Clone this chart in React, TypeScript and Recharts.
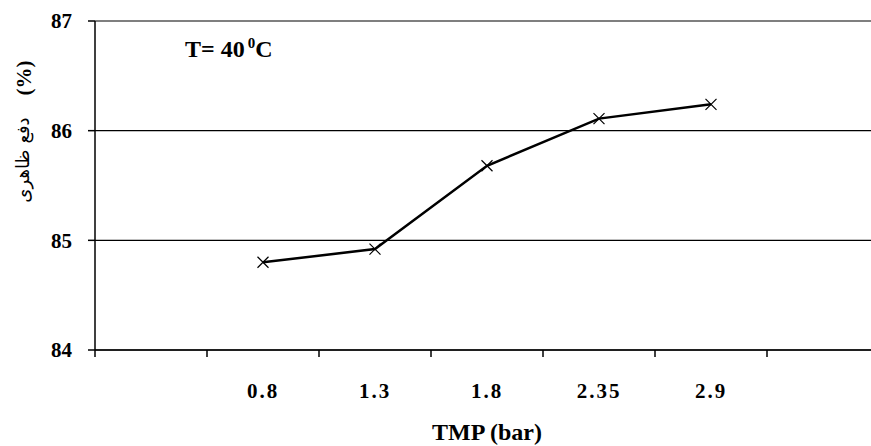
import { LineChart, Line, XAxis, YAxis, CartesianGrid, Customized } from 'recharts'

const tmpLabels = ['0.8', '1.3', '1.8', '2.35', '2.9']
const rejection = [84.8, 84.92, 85.68, 86.11, 86.24]
const yTicks = [84, 85, 86, 87]

// empty categories on both sides, like the original sheet
const data = [
  { tmp: 'padStart', value: null as number | null },
  ...tmpLabels.map((tmp, i) => ({ tmp, value: rejection[i] as number | null })),
  { tmp: 'padEnd', value: null as number | null },
]

const SERIF = '"Liberation Serif", "Times New Roman", serif'
const X_TICK_MARGIN = 33

function TmpTick(props: any) {
  const { x, y, payload } = props
  const half = payload.offset > 0 ? payload.offset : 56
  const axisY = y - X_TICK_MARGIN
  const isPad = String(payload.value).startsWith('pad')
  return (
    <g>
      <line x1={x - half} x2={x - half} y1={axisY} y2={axisY + 7} stroke="#000" strokeWidth={1.5} />
      {!isPad && (
        <text
          x={x}
          y={y}
          dy="0.71em"
          textAnchor="middle"
          fill="#000"
          fontFamily={SERIF}
          fontWeight="bold"
          fontSize={21}
          letterSpacing={2}
        >
          {payload.value}
        </text>
      )}
    </g>
  )
}

function CrossDot(props: any) {
  const { cx, cy } = props
  if (cx == null || cy == null) return <g />
  const s = 5.5
  return (
    <path
      d={`M${cx - s},${cy - s}L${cx + s},${cy + s}M${cx + s},${cy - s}L${cx - s},${cy + s}`}
      stroke="#000"
      strokeWidth={1.2}
      fill="none"
    />
  )
}

function Annotations() {
  return (
    <g>
      <text x={185} y={57} fill="#000" fontFamily={SERIF} fontWeight="bold" fontSize={24}>
        T= 40
        <tspan dx={3} dy={-9} fontSize={15}>0</tspan>
        <tspan dy={9} fontSize={24}>C</tspan>
      </text>
      <text
        x={24}
        y={78}
        transform="rotate(-90 24 78)"
        textAnchor="middle"
        dominantBaseline="central"
        fill="#000"
        fontFamily={SERIF}
        fontWeight="bold"
        fontSize={21}
      >
        (%)
      </text>
      <text
        x={22}
        y={160}
        transform="rotate(-90 22 160)"
        textAnchor="middle"
        dominantBaseline="central"
        fill="#000"
        fontFamily='"DejaVu Sans", sans-serif'
        fontSize={18}
      >
        دفع ظاهری
      </text>
    </g>
  )
}

export default function App() {
  return (
    <div
      style={{
        position: 'absolute',
        left: 0,
        top: 0,
        width: 871,
        height: 446,
        overflow: 'hidden',
        background: '#fff',
      }}
    >
      <LineChart width={900} height={446} data={data} margin={{ top: 21, right: 21, bottom: 0, left: 0 }}>
        <CartesianGrid vertical={false} stroke="#000" strokeWidth={1.2} />
        <XAxis
          dataKey="tmp"
          scale="band"
          interval={0}
          height={96}
          tickLine={false}
          tickSize={0}
          tickMargin={X_TICK_MARGIN}
          axisLine={{ stroke: '#000', strokeWidth: 1.5 }}
          tick={<TmpTick />}
          label={{
            value: 'TMP (bar)',
            position: 'insideBottom',
            offset: 6,
            fill: '#000',
            fontFamily: SERIF,
            fontWeight: 'bold',
            fontSize: 24,
          }}
        />
        <YAxis
          width={95}
          domain={[84, 87]}
          ticks={yTicks}
          interval={0}
          tickSize={7}
          tickMargin={16}
          axisLine={{ stroke: '#000', strokeWidth: 1.5 }}
          tickLine={{ stroke: '#000', strokeWidth: 1.5 }}
          tick={{ fill: '#000', fontFamily: SERIF, fontWeight: 'bold', fontSize: 21 }}
        />
        <Customized component={Annotations} />
        <Line
          dataKey="value"
          stroke="#000"
          strokeWidth={2.5}
          dot={<CrossDot />}
          activeDot={false}
          isAnimationActive={false}
        />
      </LineChart>
    </div>
  )
}
